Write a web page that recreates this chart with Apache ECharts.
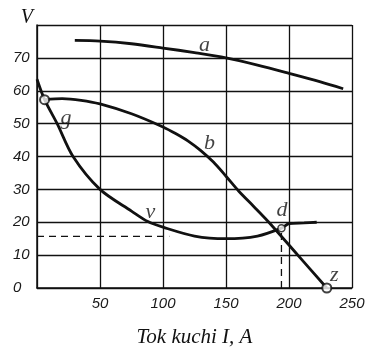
<!DOCTYPE html>
<html><head><meta charset="utf-8">
<script src="https://cdn.jsdelivr.net/npm/echarts@6/dist/echarts.min.js"></script>
<style>html,body{margin:0;padding:0;background:#fff}#c{width:370px;height:357px}</style>
</head><body><div id="c"></div>
<script>
const xTicks = [0, 50, 100, 150, 200, 250];
const yTicks = [0, 10, 20, 30, 40, 50, 60, 70, 80];
const curveA = [[30,75.3],[50,75.1],[75,74.3],[100,73],[125,71.6],[150,70],[175,67.8],[200,65.3],[225,62.7],[243,60.6]];
const curveB = [[6,57.3],[20,57.6],[35,57.1],[50,56],[75,53],[100,49],[110,47],[120,44.7],[130,41.8],[140,38.3],[150,34],[160,29.5],[172,24.8],[184,20],[207,10],[230,0]];
const curveV = [[0,63.5],[6,57.3],[16,50],[28.6,40],[50,30],[75,23.4],[88,20.2],[100,18.5],[125,15.8],[150,15.0],[175,15.8],[194,18.2],[200,19.6],[212,19.8],[222,20]];
const dashH = [[0,15.7],[105,15.7]];
const dashV = [[194,0],[194,18.2]];
const circles = [[6,57.3],[230,0]];
const pointD = [[194,18.2]];
const curveLabels = [['a',133,73.9],['b',137,44],['g',23,51.7],['v',90,23.1],['d',194.4,23.7],['z',236,4]];

const chart = echarts.init(document.getElementById('c'));
const lineStyle = {color:'#111', width:2.8};
chart.setOption({
  animation:false,
  grid:{left:37,right:18,top:25,bottom:69},
  xAxis:{type:'value',min:xTicks[0],max:xTicks[xTicks.length-1],interval:50,
    axisLine:{lineStyle:{color:'#111',width:1.5}},axisTick:{show:false},
    splitLine:{lineStyle:{color:'#111',width:1.3}},
    axisLabel:{margin:8,fontFamily:'Liberation Sans',fontStyle:'italic',fontSize:15,color:'#1a1a1a',
      formatter:v=>v===0?'':String(v)},
    name:'Tok kuchi I, A',nameLocation:'middle',nameGap:39,
    nameTextStyle:{fontFamily:'Liberation Serif',fontStyle:'italic',fontSize:21,color:'#111'}},
  yAxis:{type:'value',min:yTicks[0],max:yTicks[yTicks.length-1],interval:10,
    axisLine:{show:true,lineStyle:{color:'#111',width:1.5}},axisTick:{show:false},
    splitLine:{lineStyle:{color:'#111',width:1.3}},
    axisLabel:{margin:24,align:'left',fontFamily:'Liberation Sans',fontStyle:'italic',fontSize:15,color:'#1a1a1a',
      formatter:v=>v===80?'':String(v)},
    name:'V',nameGap:-3,nameLocation:'end',
    nameTextStyle:{fontFamily:'Liberation Serif',fontStyle:'italic',fontSize:20,color:'#111',align:'right',verticalAlign:'bottom',padding:[0,4,0,0]}},
  series:[
    {type:'line',data:curveA,smooth:0.3,symbol:'none',lineStyle:lineStyle},
    {type:'line',data:curveB,smooth:0.3,symbol:'none',lineStyle:lineStyle},
    {type:'line',data:curveV,smooth:0.3,symbol:'none',lineStyle:lineStyle},
    {type:'line',data:dashH,symbol:'none',lineStyle:{color:'#111',width:1.3,type:[7,5]}},
    {type:'line',data:dashV,symbol:'none',lineStyle:{color:'#111',width:1.3,type:[7,5]}},
    {type:'scatter',data:circles,symbol:'circle',symbolSize:9,itemStyle:{color:'#fff',borderColor:'#111',borderWidth:2},z:5},
    {type:'scatter',data:pointD,symbol:'circle',symbolSize:7,itemStyle:{color:'#fff',borderColor:'#111',borderWidth:1.5},z:5},
    {type:'scatter',data:curveLabels.map(l=>({value:[l[1],l[2]],name:l[0]})),symbolSize:0,
      label:{show:true,position:'inside',formatter:p=>p.name,fontFamily:'Liberation Serif',fontStyle:'italic',fontSize:22,color:'#111'},z:6}
  ]
});
</script></body></html>
